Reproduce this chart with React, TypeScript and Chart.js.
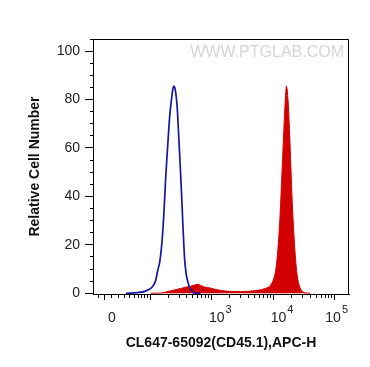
import React, { useEffect, useRef } from "react";
import { Chart, registerables } from "chart.js";

Chart.register(...registerables);

// Histogram bins on the display (logicle-like) channel axis
const blueX = [0.339, 0.532, 0.645, 0.742, 0.79, 0.823, 0.855, 0.887, 0.919, 0.952, 0.984, 1.016, 1.048, 1.081, 1.105, 1.121, 1.145, 1.169, 1.194, 1.218, 1.242, 1.266, 1.29, 1.315, 1.339, 1.371, 1.403, 1.452, 1.548];
const blueY = [0, 0.3, 0.8, 2, 3.5, 5.5, 9.5, 13, 20, 32, 48, 61, 73, 81, 85, 85.5, 83, 77, 65, 53, 40, 26, 14, 8, 5, 2.5, 1, 0, 0];

const redX = [0.742, 0.903, 0.984, 1.065, 1.145, 1.226, 1.306, 1.387, 1.452, 1.5, 1.548, 1.605, 1.661, 1.726, 1.79, 1.871, 1.968, 2.081, 2.194, 2.323, 2.435, 2.532, 2.597, 2.653, 2.694, 2.726, 2.758, 2.782, 2.806, 2.831, 2.855, 2.879, 2.903, 2.923, 2.939, 2.955, 2.973, 2.992, 3.011, 3.032, 3.056, 3.081, 3.105, 3.129, 3.161, 3.194, 3.242, 3.323];
const redY = [0, 0.1, 0.5, 1.0, 1.5, 2.0, 2.5, 2.9, 3.4, 3.7, 3.3, 2.6, 2.4, 2.0, 1.6, 1.2, 0.9, 0.7, 0.7, 0.8, 1.1, 1.5, 2.0, 2.6, 3.8, 5.5, 8.5, 13, 20, 30, 43, 57, 71, 81, 85.5, 83, 76, 65, 52, 38, 26, 16, 9, 5, 2.2, 0.8, 0.2, 0];

const yMajorTicks = [0, 20, 40, 60, 80, 100];
const yMinorTicks = [0, 5, 10, 15, 20, 25, 30, 35, 40, 45, 50, 55, 60, 65, 70, 75, 80, 85, 90, 95, 100, 105];

const xMajorValues = [0, 100, 1000, 10000, 100000];
// base and exponent of each major tick label ("" = unlabeled)
const xMajorBases = ["0", "", "10", "10", "10"];
const xMajorExps = ["", "", "3", "4", "5"];
const xMinorValues = [-10, 10, 20, 30, 40, 50, 60, 70, 80, 90, 200, 300, 400, 500, 600, 700, 800, 900, 2000, 3000, 4000, 5000, 6000, 7000, 8000, 9000, 20000, 30000, 40000, 50000, 60000, 70000, 80000, 90000];

const X_MIN = -0.194;
const X_MAX = 3.952;
const Y_MIN = -0.3;
const Y_MAX = 105;

const toDisplay = (v: number) => Math.asinh(v / 38) / Math.LN10;

const FONT = "'Liberation Sans', Arial, sans-serif";

const framePlugin = {
  id: "frame",
  afterDraw(chart: any) {
    const { ctx, chartArea } = chart;
    ctx.save();
    ctx.strokeStyle = "#000";
    ctx.lineWidth = 1;
    ctx.beginPath();
    ctx.moveTo(chartArea.left, chartArea.top + 0.5);
    ctx.lineTo(chartArea.right - 0.5, chartArea.top + 0.5);
    ctx.lineTo(chartArea.right - 0.5, chartArea.bottom);
    ctx.stroke();
    ctx.restore();
  },
};

const watermarkPlugin = {
  id: "watermark",
  beforeDatasetsDraw(chart: any) {
    const { ctx, chartArea } = chart;
    ctx.save();
    ctx.font = `16px ${FONT}`;
    ctx.fillStyle = "#d6d6d6";
    ctx.textAlign = "right";
    ctx.textBaseline = "middle";
    ctx.fillText("WWW.PTGLAB.COM", chartArea.right - 5, chartArea.top + 14);
    ctx.restore();
  },
};

// Draws the x major tick labels with a raised exponent (10³ style)
const xLabelPlugin = {
  id: "xLabels",
  afterDraw(chart: any) {
    const { ctx, chartArea } = chart;
    const scale = chart.scales.x;
    ctx.save();
    ctx.fillStyle = "#222";
    ctx.textBaseline = "alphabetic";
    ctx.textAlign = "left";
    const baseY = scale.top + 28;
    xMajorValues.forEach((v, i) => {
      const base = xMajorBases[i];
      if (!base) return;
      const exp = xMajorExps[i];
      const px = scale.getPixelForValue(toDisplay(v));
      ctx.font = `14px ${FONT}`;
      const bw = ctx.measureText(base).width;
      ctx.font = `11px ${FONT}`;
      const ew = exp ? ctx.measureText(exp).width + 1 : 0;
      const total = bw + ew;
      let center = px + (exp ? 9 : 7);
      center = Math.min(center, chartArea.right - 1 - total / 2);
      const left = center - total / 2;
      ctx.font = `14px ${FONT}`;
      ctx.fillText(base, left, baseY);
      if (exp) {
        ctx.font = `11px ${FONT}`;
        ctx.fillText(exp, left + bw + 1, baseY - 9);
      }
    });
    ctx.restore();
  },
};

export default function App() {
  const ref = useRef<HTMLCanvasElement | null>(null);

  useEffect(() => {
    if (!ref.current) return;
    const chart = new Chart(ref.current, {
      type: "line",
      data: {
        datasets: [
          {
            label: "Isotype",
            data: blueX.map((x, i) => ({ x, y: blueY[i] })),
            borderColor: "#1616a0",
            borderWidth: 1.7,
            pointRadius: 0,
            fill: false,
            cubicInterpolationMode: "monotone",
          },
          {
            label: "CL647-65092",
            data: redX.map((x, i) => ({ x, y: redY[i] })),
            borderColor: "#d20000",
            backgroundColor: "#d20000",
            borderWidth: 1,
            pointRadius: 0,
            fill: "origin",
            cubicInterpolationMode: "monotone",
          },
        ],
      },
      options: {
        responsive: false,
        animation: false,
        devicePixelRatio: 1,
        layout: { padding: { left: 0, top: 39, right: 21, bottom: 0 } },
        plugins: {
          legend: { display: false },
          tooltip: { enabled: false },
        },
        scales: {
          x: {
            type: "linear",
            position: "bottom",
            weight: 1,
            min: X_MIN,
            max: X_MAX,
            afterBuildTicks: (scale: any) => {
              scale.ticks = xMajorValues.map((v) => ({ value: toDisplay(v) }));
            },
            afterFit: (scale: any) => {
              scale.height = 73;
            },
            grid: { drawOnChartArea: false, drawTicks: true, tickLength: 6, tickColor: "#000", tickWidth: 1 },
            border: { display: true, color: "#000", width: 1 },
            ticks: { display: false, autoSkip: false },
            title: {
              display: true,
              text: "CL647-65092(CD45.1),APC-H",
              color: "#111",
              font: { family: FONT, size: 14, weight: "bold" },
              padding: { top: 0, bottom: 15 },
            },
          },
          xMinor: {
            type: "linear",
            position: "bottom",
            weight: 0,
            min: X_MIN,
            max: X_MAX,
            afterBuildTicks: (scale: any) => {
              scale.ticks = xMinorValues
                .map((v) => toDisplay(v))
                .filter((d) => d >= X_MIN && d <= X_MAX)
                .map((d) => ({ value: d }));
            },
            afterFit: (scale: any) => {
              scale.height = 0;
            },
            grid: { drawOnChartArea: false, drawTicks: true, tickLength: 4, tickColor: "#000", tickWidth: 1 },
            border: { display: false },
            ticks: { display: false, autoSkip: false },
          },
          y: {
            type: "linear",
            position: "left",
            weight: 1,
            min: Y_MIN,
            max: Y_MAX,
            afterBuildTicks: (scale: any) => {
              scale.ticks = yMajorTicks.map((v) => ({ value: v }));
            },
            afterFit: (scale: any) => {
              scale.width = 93;
            },
            grid: { drawOnChartArea: false, drawTicks: true, tickLength: 8, tickColor: "#000", tickWidth: 1 },
            border: { display: true, color: "#000", width: 1 },
            ticks: {
              autoSkip: false,
              padding: 5,
              color: "#222",
              font: { family: FONT, size: 14 },
              callback: (v: any) => String(v),
            },
            title: {
              display: true,
              text: "Relative Cell Number",
              color: "#111",
              font: { family: FONT, size: 14, weight: "bold" },
              padding: { top: 26.6, bottom: 0 },
            },
          },
          yMinor: {
            type: "linear",
            position: "left",
            weight: 0,
            min: Y_MIN,
            max: Y_MAX,
            afterBuildTicks: (scale: any) => {
              scale.ticks = yMinorTicks.map((v) => ({ value: v }));
            },
            afterFit: (scale: any) => {
              scale.width = 0;
            },
            grid: { drawOnChartArea: false, drawTicks: true, tickLength: 3, tickColor: "#000", tickWidth: 1 },
            border: { display: false },
            ticks: { display: false, autoSkip: false },
          },
        },
      } as any,
      plugins: [framePlugin, watermarkPlugin, xLabelPlugin],
    });
    return () => chart.destroy();
  }, []);

  return (
    <div style={{ position: "fixed", left: 0, top: 0, width: 370, height: 367, background: "#fff" }}>
      <canvas ref={ref} width={370} height={367} style={{ width: 370, height: 367, display: "block" }} />
    </div>
  );
}
